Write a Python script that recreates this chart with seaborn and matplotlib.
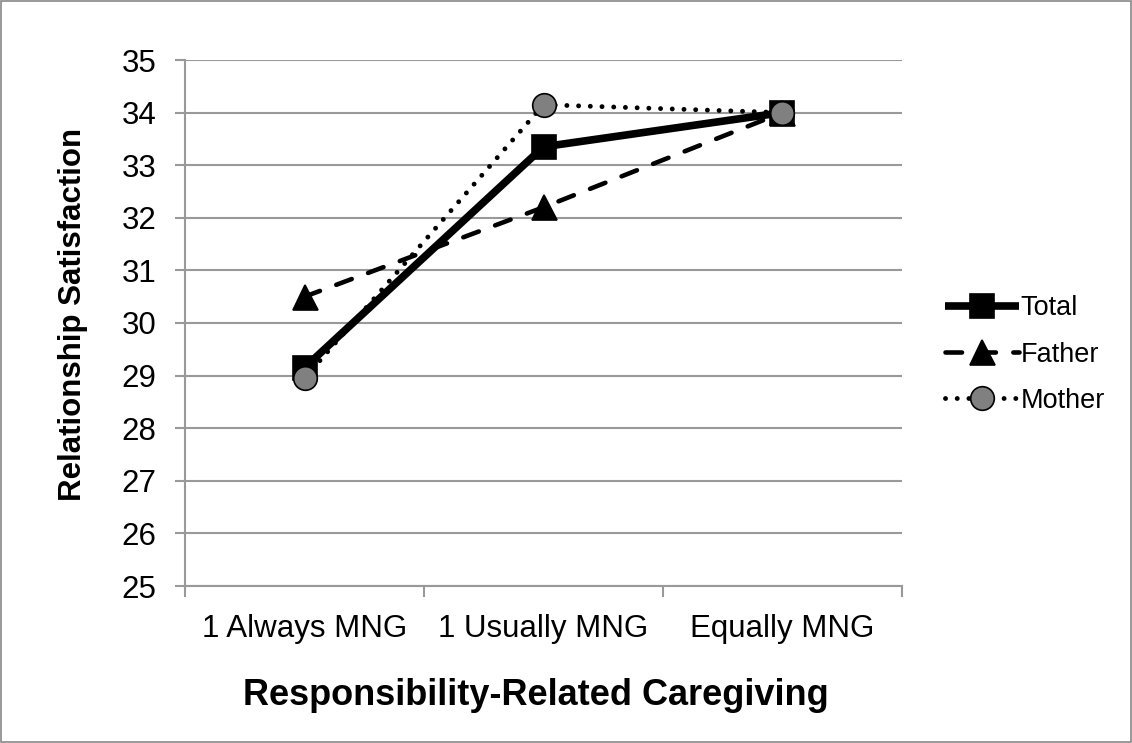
import matplotlib
matplotlib.use('Agg')
import matplotlib.pyplot as plt
import seaborn as sns
import pandas as pd
from matplotlib.patches import Rectangle

categories = ['1 Always MNG', '1 Usually MNG', 'Equally MNG']
total = [29.15, 33.35, 34.0]
father = [30.5, 32.2, 34.0]
mother = [28.95, 34.15, 34.0]
y_ticks = list(range(25, 36))

sns.set_theme(style='white')
plt.rcParams['font.family'] = ['Liberation Sans', 'DejaVu Sans']
plt.rcParams['text.color'] = 'black'
plt.rcParams['xtick.labelcolor'] = 'black'
plt.rcParams['ytick.labelcolor'] = 'black'
plt.rcParams['axes.labelcolor'] = 'black'

df = pd.DataFrame({
    'pos': list(range(len(categories))) * 3,
    'value': total + father + mother,
    'series': ['Total'] * 3 + ['Father'] * 3 + ['Mother'] * 3,
})

fig = plt.figure(figsize=(11.32, 7.43), dpi=100)
ax = fig.add_axes([185 / 1132, 1 - 586 / 743, (902 - 185) / 1132, (586 - 60) / 743])

# line styles as they look in the reference
styles = {
    'Total': dict(lw=5.5, ls='-', marker='s', ms=17, mfc='black'),
    'Father': dict(lw=3.3, ls=(0, (3.6, 3.8)), marker='^', ms=18, mfc='black'),
    'Mother': dict(lw=3.5, ls=(0, (0.01, 2.4)), marker='o', ms=17, mfc='#808080'),
}
for name in ['Total', 'Father', 'Mother']:
    st = styles[name]
    sub = df[df['series'] == name]
    sns.lineplot(data=sub, x='pos', y='value', ax=ax, label=name,
                 color='black', linewidth=st['lw'], linestyle=st['ls'],
                 marker=st['marker'], markersize=st['ms'],
                 markerfacecolor=st['mfc'], markeredgecolor='black',
                 markeredgewidth=1.2, dash_capstyle='round', solid_capstyle='butt')

ax.set_xlim(-0.5, len(categories) - 0.5)
ax.set_ylim(25, 35)
ax.set_yticks(y_ticks)
ax.set_yticklabels([str(t) for t in y_ticks], fontsize=22.5)
ax.set_xticks([i - 0.5 for i in range(len(categories) + 1)])
ax.set_xticklabels([])
ax.set_xticks(range(len(categories)), minor=True)
ax.set_xticklabels(categories, minor=True, fontsize=22.5)
ax.tick_params(axis='x', which='major', length=8, width=1.5, color='#999999', direction='out', bottom=True)
ax.tick_params(axis='x', which='minor', length=0, pad=20)
ax.tick_params(axis='y', length=7, width=1.5, color='#999999', direction='out', left=True, pad=13.5)

ax.grid(axis='y', color='#999999', linewidth=1.5)
ax.set_axisbelow(True)
for side in ['top', 'right']:
    ax.spines[side].set_visible(False)
for side in ['left', 'bottom']:
    ax.spines[side].set_color('#999999')
    ax.spines[side].set_linewidth(1.5)

ax.set_xlabel('Responsibility-Related Caregiving', fontsize=26, fontweight='bold')
ax.set_ylabel('Relationship Satisfaction', fontsize=22.5, fontweight='bold')
ax.xaxis.set_label_coords(0.490, -0.1745)
ax.yaxis.set_label_coords(-0.135, 0.516)

leg = ax.legend(loc='center left', bbox_to_anchor=(1.026, 0.44), frameon=False,
                fontsize=19.5, handlelength=2.73, handletextpad=0.05, labelspacing=0.75)

fig.patches.append(Rectangle((0.001, 0.001), 0.998, 0.998, transform=fig.transFigure,
                             fill=False, edgecolor='#888888', linewidth=1.2))

fig.savefig('out.png', dpi=100)
